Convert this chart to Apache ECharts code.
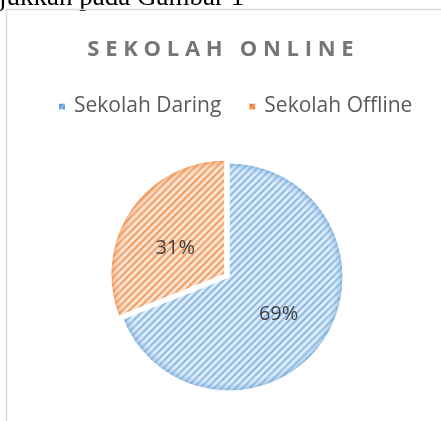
<!DOCTYPE html>
<html>
<head>
<meta charset="utf-8">
<script src="https://cdn.jsdelivr.net/npm/echarts@6/dist/echarts.min.js"></script>
<style>
  html, body { margin: 0; padding: 0; background: #fff; }
  #chart { width: 441px; height: 421px; }
</style>
</head>
<body>
<div id="chart"></div>
<script>
const categories = ["Sekolah Daring", "Sekolah Offline"];
const values = [69, 31];
const baseColors = ["#5B9BD5", "#ED7D31"];
const stripeColors = ["#8DB9E5", "#F29D62"];
const lightColors = ["#DDEAF7", "#FBE2D1"];
const rimColors = ["rgba(91,155,213,0.55)", "rgba(237,125,49,0.55)"];
// label drops a little below the slice middle, as in the picture
const labelShift = [4, 8];

const cx = 229, cy = 277, r = 114;

const pieData = categories.map((name, i) => ({
  name: name,
  value: values[i],
  selected: i === 1,
  itemStyle: {
    color: lightColors[i],
    decal: {
      symbol: "rect",
      symbolSize: 1,
      rotation: -Math.PI / 4,
      dashArrayX: [1, 0],
      dashArrayY: [2, 2.6],
      color: stripeColors[i]
    }
  }
}));

const rimData = categories.map((name, i) => ({
  name: name,
  value: values[i],
  selected: i === 1,
  label: { lineHeight: labelShift[i] * 2 },
  itemStyle: {
    color: {
      type: "radial", x: cx, y: cy, r: r, global: true,
      colorStops: [
        { offset: 0, color: "rgba(255,255,255,0)" },
        { offset: 0.9, color: "rgba(255,255,255,0)" },
        { offset: 1, color: rimColors[i] }
      ]
    }
  }
}));

const myChart = echarts.init(document.getElementById("chart"));
const option = {
  backgroundColor: "#fff",
  animation: false,
  title: {
    text: "S E K O L A H   O N L I N E",
    left: "center",
    top: 34,
    textStyle: {
      fontFamily: "Open Sans",
      fontWeight: "bold",
      fontSize: 22,
      color: "#767676"
    }
  },
  legend: {
    top: 96,
    left: 57,
    padding: 0,
    icon: "rect",
    itemWidth: 8,
    itemHeight: 8,
    itemGap: 26,
    textStyle: {
      fontFamily: "Open Sans",
      fontSize: 21,
      color: "#595959",
      padding: [0, 0, 0, 3]
    },
    data: categories.map((name, i) => ({ name: name, itemStyle: { color: baseColors[i] } }))
  },
  graphic: [
    {
      type: "text",
      x: -1,
      y: 11,
      style: {
        text: "jukkan pada Gambar 1",
        font: "27px 'Liberation Serif'",
        fill: "#000",
        verticalAlign: "bottom"
      }
    },
    {
      type: "rect",
      shape: { x: 6.5, y: 9.5, width: 460, height: 440 },
      style: { fill: "none", stroke: "#D9D9D9", lineWidth: 1.5 }
    }
  ],
  series: [
    {
      type: "pie",
      center: [cx, cy],
      radius: r,
      startAngle: 90,
      selectedMode: "single",
      selectedOffset: 5,
      itemStyle: { borderColor: "#fff", borderWidth: 1 },
      label: { show: false },
      labelLine: { show: false },
      emphasis: { disabled: true },
      data: pieData
    },
    {
      type: "pie",
      silent: true,
      center: [cx, cy],
      radius: r,
      startAngle: 90,
      selectedMode: "single",
      selectedOffset: 5,
      itemStyle: { borderColor: "#fff", borderWidth: 1 },
      label: {
        position: "inside",
        fontFamily: "Open Sans",
        fontSize: 20,
        color: "#404040",
        formatter: p => "\n" + Math.round(p.percent) + "%"
      },
      labelLine: { show: false },
      emphasis: { disabled: true },
      data: rimData
    }
  ]
};
myChart.setOption(option);
</script>
</body>
</html>
